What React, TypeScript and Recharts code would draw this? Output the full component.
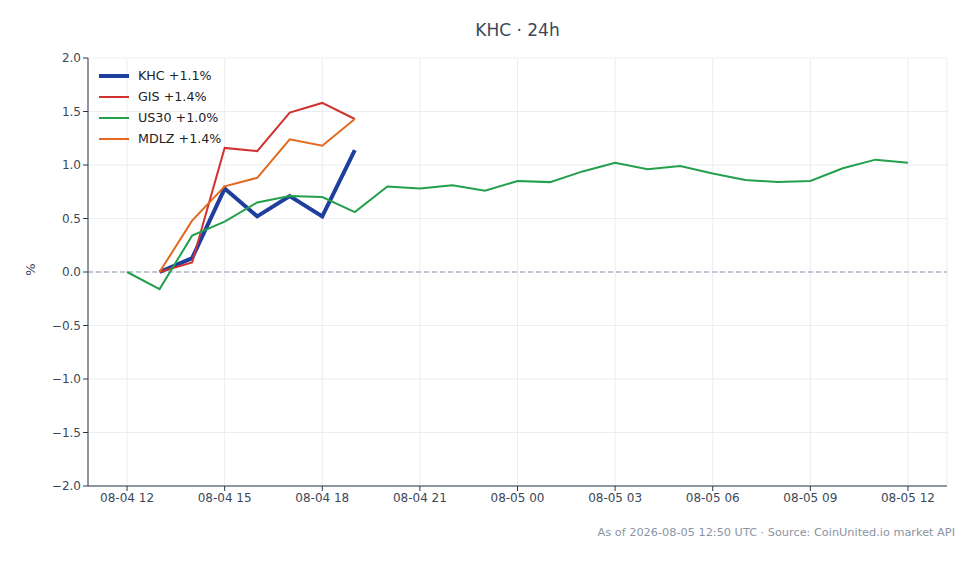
import React from 'react';
import {
  LineChart,
  Line,
  XAxis,
  YAxis,
  CartesianGrid,
  ReferenceLine
} from 'recharts';

// hours since 08-04 12:00 UTC
const hours = [0, 1, 2, 3, 4, 5, 6, 7, 8, 9, 10, 11, 12, 13, 14, 15, 16, 17, 18, 19, 20, 21, 22, 23, 24];

const us30 = [0.0, -0.16, 0.34, 0.47, 0.65, 0.71, 0.70, 0.56, 0.80, 0.78, 0.81, 0.76, 0.85, 0.84, 0.94, 1.02, 0.96, 0.99, 0.92, 0.86, 0.84, 0.85, 0.97, 1.05, 1.02];
// stocks only trade from 13:00 to 19:00
const khc = [null, 0.0, 0.13, 0.78, 0.52, 0.71, 0.52, 1.14];
const gis = [null, 0.0, 0.09, 1.16, 1.13, 1.49, 1.58, 1.43];
const mdlz = [null, 0.0, 0.48, 0.80, 0.88, 1.24, 1.18, 1.43];

const xTicks = [0, 3, 6, 9, 12, 15, 18, 21, 24];
const xTickLabels = ['08-04 12', '08-04 15', '08-04 18', '08-04 21', '08-05 00', '08-05 03', '08-05 06', '08-05 09', '08-05 12'];
const yTicks = [-2, -1.5, -1, -0.5, 0, 0.5, 1, 1.5, 2];

const series = [
  { key: 'khc', name: 'KHC +1.1%', color: '#1f3f9f', width: 4 },
  { key: 'gis', name: 'GIS +1.4%', color: '#d03232', width: 2 },
  { key: 'us30', name: 'US30 +1.0%', color: '#22a04b', width: 2 },
  { key: 'mdlz', name: 'MDLZ +1.4%', color: '#e2691e', width: 2 },
];

const data = hours.map((h, i) => ({
  t: h,
  us30: us30[i],
  khc: khc[i] ?? null,
  gis: gis[i] ?? null,
  mdlz: mdlz[i] ?? null,
}));

const FONT = '"DejaVu Sans", sans-serif';
const TEXT = '#3c4858';

const fmtY = (v: number) => (v < 0 ? '\u2212' + Math.abs(v).toFixed(1) : v.toFixed(1));
const fmtX = (v: number) => xTickLabels[xTicks.indexOf(v)] ?? '';

const App: React.FC = () => {
  return (
    <div style={{ position: 'fixed', left: 0, top: 0, width: 979, height: 564, background: '#fff', fontFamily: FONT }}>
      <div style={{ position: 'absolute', left: 88, width: 859, top: 20, textAlign: 'center', fontSize: 17, color: TEXT }}>
        KHC · 24h
      </div>
      <div style={{ position: 'absolute', left: 24, top: 262, fontSize: 13, color: TEXT, transform: 'rotate(-90deg)' }}>
        %
      </div>
      <LineChart width={979} height={564} data={data} margin={{ top: 58, right: 32, bottom: 48, left: 28 }}>
        <CartesianGrid stroke="#e6e9ee" strokeWidth={0.8} />
        <XAxis
          dataKey="t"
          type="number"
          domain={[-1.2, 25.2]}
          ticks={xTicks}
          tickFormatter={fmtX}
          height={30}
          axisLine={{ stroke: '#2d3748', strokeWidth: 1 }}
          tickLine={{ stroke: '#2d3748' }}
          tickSize={5}
          tick={{ fill: TEXT, fontSize: 12, fontFamily: FONT }}
        />
        <YAxis
          type="number"
          domain={[-2, 2]}
          ticks={yTicks}
          tickFormatter={fmtY}
          width={60}
          allowDataOverflow
          axisLine={{ stroke: '#2d3748', strokeWidth: 1 }}
          tickLine={{ stroke: '#2d3748' }}
          tickSize={5}
          tick={{ fill: TEXT, fontSize: 12, fontFamily: FONT }}
        />
        <ReferenceLine y={0} stroke="#8b9bb0" strokeDasharray="5 3" strokeWidth={1.2} />
        {series.map(s => (
          <Line
            key={s.key}
            dataKey={s.key}
            name={s.name}
            stroke={s.color}
            strokeWidth={s.width}
            dot={false}
            type="linear"
            connectNulls={false}
            isAnimationActive={false}
          />
        ))}
      </LineChart>
      <div style={{ position: 'absolute', left: 99, top: 65, fontSize: 12.7, color: '#222' }}>
        {series.map(s => (
          <div key={s.key} style={{ display: 'flex', alignItems: 'center', height: 21 }}>
            <div style={{ width: 30, height: s.width, background: s.color, marginRight: 9 }} />
            <span>{s.name}</span>
          </div>
        ))}
      </div>
      <div style={{ position: 'absolute', right: 24, top: 526, fontSize: 11.3, color: '#8a94a3' }}>
        As of 2026-08-05 12:50 UTC · Source: CoinUnited.io market API
      </div>
    </div>
  );
};

export default App;
